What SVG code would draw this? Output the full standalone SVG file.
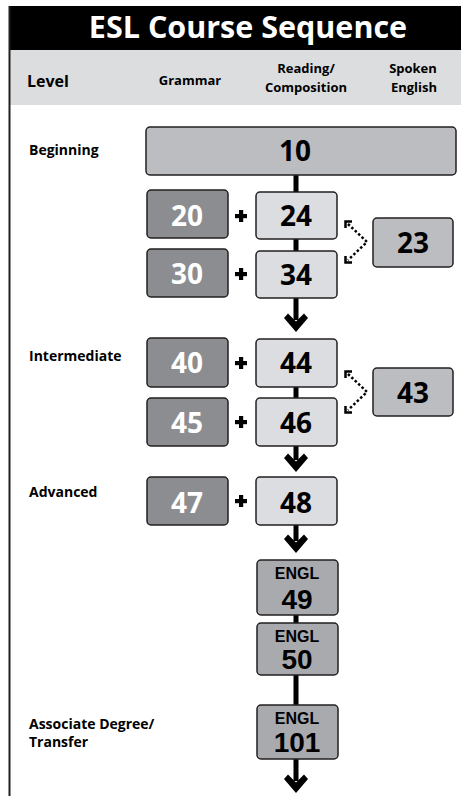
<svg xmlns="http://www.w3.org/2000/svg" width="461" height="798" viewBox="0 0 461 798">
<style>
text{font-family:"Open Sans","Liberation Sans",Arial,sans-serif;font-weight:700;}
.box{stroke:#231f20;stroke-width:1.5;}
.dark{fill:#8c8d90;}
.light{fill:#dcdde0;}
.mid{fill:#bcbdc0;}
.engl{fill:#a8aaad;}
.num{font-size:28px;text-anchor:middle;fill:#000;}
.wnum{font-size:28px;text-anchor:middle;fill:#fff;}
.enum{font-family:"Liberation Sans",Arial,sans-serif;font-size:28px;text-anchor:middle;fill:#000;}
.small{font-family:"Liberation Sans",Arial,sans-serif;font-size:16px;text-anchor:middle;fill:#000;}
.lvl{font-size:14px;fill:#000;}
.hdr{font-size:13px;text-anchor:middle;fill:#000;}
.dot{fill:none;stroke:#000;stroke-width:2.5;stroke-dasharray:2.5 2.2;}
.ahd{fill:none;stroke:#000;stroke-width:2.5;}
</style>
<defs>
<g id="arrowhead"><polygon points="-12,-14 -8,-18.5 0,-10.5 8,-18.5 12,-14 0,0" fill="#000"/></g>
<g id="plus"><rect x="-6" y="-2" width="12" height="4.2" fill="#000"/><rect x="-2" y="-6" width="4.2" height="12" fill="#000"/></g>
</defs>
<rect x="0" y="0" width="461" height="798" fill="#fff"/>
<g id="header">
<rect x="9" y="6" width="452" height="44" fill="#000"/>
<rect x="10" y="50" width="451" height="55" fill="#dcdddf"/>
<line x1="9.5" y1="6" x2="9.5" y2="796" stroke="#231f20" stroke-width="2"/>
<text x="248" y="38" font-size="30.5" text-anchor="middle" fill="#fff">ESL Course Sequence</text>
<text x="27" y="87" font-size="16" fill="#000">Level</text>
<text x="190" y="85" class="hdr">Grammar</text>
<text x="306" y="73" class="hdr">Reading/</text>
<text x="306" y="92" class="hdr">Composition</text>
<text x="413" y="73" class="hdr">Spoken</text>
<text x="414" y="92" class="hdr">English</text>
</g>
<g id="levels">
<text x="29" y="155" class="lvl">Beginning</text>
<text x="29" y="361" class="lvl">Intermediate</text>
<text x="29" y="497" class="lvl">Advanced</text>
<text x="29" y="729" class="lvl">Associate Degree/</text>
<text x="29" y="747" class="lvl">Transfer</text>
</g>
<g id="connectors">
<rect x="293.5" y="175" width="5" height="17" fill="#000"/>
<rect x="293.5" y="239" width="5" height="12" fill="#000"/>
<rect x="293.5" y="298" width="5" height="22" fill="#000"/>
<use href="#arrowhead" x="296" y="332"/>
<rect x="293.5" y="387" width="5" height="11" fill="#000"/>
<rect x="293.5" y="446" width="5" height="14" fill="#000"/>
<use href="#arrowhead" x="296" y="472"/>
<rect x="293.5" y="525" width="5" height="16" fill="#000"/>
<use href="#arrowhead" x="296" y="553"/>
<rect x="293.5" y="615" width="5" height="8" fill="#000"/>
<rect x="293.5" y="675" width="5" height="30" fill="#000"/>
<rect x="293.5" y="759" width="5" height="22" fill="#000"/>
<use href="#arrowhead" x="296" y="793"/>
<use href="#plus" x="241" y="216"/>
<use href="#plus" x="241" y="274"/>
<use href="#plus" x="241" y="363"/>
<use href="#plus" x="241" y="422"/>
<use href="#plus" x="241" y="501"/>
<polyline class="dot" points="348,224 367,242 348,260"/>
<polyline class="ahd" points="345.5,228 345.5,221.5 352,221.5"/>
<polyline class="ahd" points="345.5,256 345.5,262.5 352,262.5"/>
<polyline class="dot" points="348,374 367,392 348,410"/>
<polyline class="ahd" points="345.5,378 345.5,371.5 352,371.5"/>
<polyline class="ahd" points="345.5,406 345.5,412.5 352,412.5"/>
</g>
<g id="n10"><rect class="box mid" x="146" y="127" width="310" height="48" rx="4"/><text x="295" y="161" class="num">10</text></g>
<g id="n20"><rect class="box dark" x="147" y="190" width="81" height="48" rx="4"/><text x="187" y="226" class="wnum">20</text></g>
<g id="n24"><rect class="box light" x="256" y="192" width="81" height="47" rx="4"/><text x="296" y="226" class="num">24</text></g>
<g id="n23"><rect class="box mid" x="373" y="218" width="80" height="49" rx="4"/><text x="413" y="253" class="num">23</text></g>
<g id="n30"><rect class="box dark" x="147" y="249" width="81" height="48" rx="4"/><text x="187" y="284" class="wnum">30</text></g>
<g id="n34"><rect class="box light" x="256" y="251" width="81" height="47" rx="4"/><text x="296" y="285" class="num">34</text></g>
<g id="n40"><rect class="box dark" x="147" y="338" width="81" height="49" rx="4"/><text x="187" y="373" class="wnum">40</text></g>
<g id="n44"><rect class="box light" x="256" y="339" width="81" height="48" rx="4"/><text x="296" y="373" class="num">44</text></g>
<g id="n43"><rect class="box mid" x="373" y="368" width="80" height="48" rx="4"/><text x="413" y="403" class="num">43</text></g>
<g id="n45"><rect class="box dark" x="147" y="398" width="81" height="48" rx="4"/><text x="187" y="433" class="wnum">45</text></g>
<g id="n46"><rect class="box light" x="256" y="398" width="81" height="48" rx="4"/><text x="296" y="433" class="num">46</text></g>
<g id="n47"><rect class="box dark" x="147" y="477" width="81" height="48" rx="4"/><text x="187" y="513" class="wnum">47</text></g>
<g id="n48"><rect class="box light" x="256" y="477" width="81" height="48" rx="4"/><text x="296" y="513" class="num">48</text></g>
<g id="n49"><rect class="box engl" x="257" y="560" width="81" height="55" rx="4"/><text x="297" y="579" class="small">ENGL</text><text x="297" y="609" class="enum">49</text></g>
<g id="n50"><rect class="box engl" x="257" y="623" width="81" height="52" rx="4"/><text x="297" y="642" class="small">ENGL</text><text x="297" y="669" class="enum">50</text></g>
<g id="n101"><rect class="box engl" x="257" y="705" width="81" height="54" rx="4"/><text x="297" y="724" class="small">ENGL</text><text x="297" y="752" class="enum">101</text></g>
</svg>
